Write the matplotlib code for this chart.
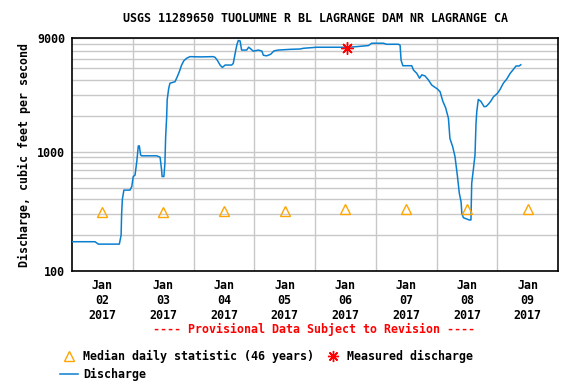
import numpy as np
import matplotlib
matplotlib.use('Agg')
import matplotlib.pyplot as plt
from matplotlib.lines import Line2D

# hours after Jan 02 2017 00:00, discharge in cfs
hours = [0.1, 9.1, 10.4, 18.7, 19.4, 19.6, 19.9, 20.5, 22.9, 23.6, 24.2, 24.9,
         25.6, 26.2, 26.6, 27.1, 27.5, 33.5, 34.8, 35.4, 35.6, 36.3, 36.7, 37.0,
         37.4, 37.6, 38.2, 38.7, 40.7, 41.6, 42.4, 43.3, 44.2, 45.3, 46.6, 50.6,
         55.7, 56.5, 57.4, 58.5, 59.4, 60.5, 63.1, 63.7, 64.7, 65.2, 65.7, 66.4,
         67.0, 69.0, 69.8, 70.6, 71.6, 73.6, 75.0, 75.6, 76.9, 78.5, 79.8, 81.5,
         86.1, 90.1, 91.4, 96.7, 103.2, 108.5, 112.5, 117.1, 118.4, 123.0, 124.3,
         128.9, 129.6, 130.0, 130.7, 134.2, 134.9, 136.2, 137.3, 138.2, 139.5,
         140.8, 142.1, 143.4, 144.3, 145.4, 146.5, 147.6, 148.7, 149.3, 150.4,
         151.3, 152.2, 153.0, 153.7, 154.0, 154.6, 155.9, 156.9, 157.6, 157.9,
         158.6, 159.2, 159.6, 159.9, 160.5, 161.5, 162.8, 163.6, 164.5, 165.4,
         166.5, 168.0, 169.1, 170.4, 171.7, 173.1, 174.4, 175.4, 176.6, 177.3]
discharge = [176, 176, 168, 168, 200, 300, 400, 477, 477, 510, 620, 637,
             830, 1120, 1120, 940, 925, 925, 900, 700, 620, 620, 800, 1340,
             1970, 2730, 3400, 3760, 3870, 4270, 4700, 5340, 5810, 6090, 6280, 6250,
             6280, 6200, 5860, 5340, 5100, 5340, 5340, 5510, 7130, 8000, 8580, 8500,
             7130, 7130, 7540, 7300, 6980, 7130, 7000, 6450, 6380, 6580, 7020, 7130,
             7230, 7280, 7380, 7530, 7530, 7530, 7620, 7780, 8140, 8140, 7980,
             7980, 7850, 5860, 5270, 5270, 4850, 4550, 4140, 4420, 4320,
             4000, 3630, 3470, 3370, 3190, 2650, 2340, 1910, 1290, 1100,
             910, 640, 450, 380, 305, 280, 273, 268, 268, 544,
             725, 940, 1730, 2170, 2750, 2650, 2390, 2400, 2510, 2650,
             2890, 3080, 3330, 3760, 4060, 4550, 4920, 5240, 5240, 5370]

# median daily statistic at noon of each day
median_days = ['Jan\n02\n2017', 'Jan\n03\n2017', 'Jan\n04\n2017', 'Jan\n05\n2017',
               'Jan\n06\n2017', 'Jan\n07\n2017', 'Jan\n08\n2017', 'Jan\n09\n2017']
median_vals = [310, 310, 320, 320, 330, 330, 330, 330]

measured_hour = [108.7]
measured_val = [7400]

font = 'DejaVu Sans Mono'
fs = 8.4

fig = plt.figure(figsize=(5.76, 3.84), dpi=100)
ax = fig.add_axes([0.125, 0.2943, 0.8438, 0.6067])

days = np.array(hours) / 24.0
ax.plot(days, discharge, color='#0a7fd0', lw=1.1, zorder=3)
mid = np.arange(len(median_vals)) + 0.5
ax.plot(mid, median_vals, linestyle='none', marker='^', ms=7, mfc='none',
        mec='#ffa500', mew=1.0, zorder=4)
ax.plot(np.array(measured_hour) / 24.0, measured_val, linestyle='none',
        marker=(8, 2, 0), ms=9, color='red', mew=1.0, zorder=5)

ax.set_yscale('log')
ax.set_ylim(100, 9000)
ax.set_xlim(0, 8)
ax.set_yticks([100, 1000, 9000])
ax.set_yticklabels(['100', '1000', '9000'], fontfamily=font, fontweight='bold', fontsize=fs)
ax.set_yticks([200, 300, 400, 500, 600, 700, 800, 900,
               2000, 3000, 4000, 5000, 6000, 7000, 8000], minor=True)
ax.yaxis.set_minor_formatter(plt.NullFormatter())
ax.set_xticks(mid)
ax.set_xticklabels(median_days, fontfamily=font, fontweight='bold', fontsize=fs,
                   linespacing=1.2)
ax.set_xticks(np.arange(1, 8), minor=True)
ax.tick_params(which='both', length=0)
ax.tick_params(axis='x', pad=6)
ax.tick_params(axis='y', pad=5)
ax.grid(which='minor', color='#c8c8c8', lw=1)
ax.grid(which='major', axis='y', color='#c8c8c8', lw=1)
for s in ax.spines.values():
    s.set_linewidth(1.2)

ax.set_ylabel('Discharge, cubic feet per second', fontfamily=font,
              fontweight='bold', fontsize=fs, labelpad=4)
fig.text(0.547, 0.953, 'USGS 11289650 TUOLUMNE R BL LAGRANGE DAM NR LAGRANGE CA',
         ha='center', va='center', fontfamily=font, fontweight='bold', fontsize=fs)
fig.text(0.546, 0.143, '---- Provisional Data Subject to Revision ----',
         ha='center', va='center', fontfamily=font, fontweight='bold', fontsize=fs,
         color='red')

handles = [
    Line2D([], [], linestyle='none', marker='^', ms=7, mfc='none', mec='#ffa500', mew=1.0),
    Line2D([], [], color='#0a7fd0', lw=1.1),
    Line2D([], [], linestyle='none', marker=(8, 2, 0), ms=8, color='red', mew=1.0),
]
labels = ['Median daily statistic (46 years)', 'Discharge', 'Measured discharge']
fig.legend(handles, labels, ncol=2, loc='upper left', bbox_to_anchor=(0.104, 0.088),
           frameon=False, prop={'family': font, 'weight': 'bold', 'size': fs},
           handlelength=1.55, handletextpad=0.43, columnspacing=0.86,
           labelspacing=0.37, borderpad=0, borderaxespad=0)

fig.savefig('out.png', dpi=100)
